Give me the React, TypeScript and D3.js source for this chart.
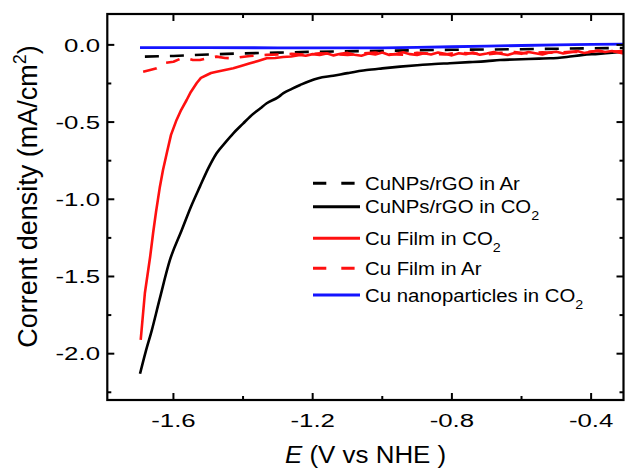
import React from "react";
import * as d3 from "d3";

// ---------- data ----------
const xMajorTicks = [-1.6, -1.2, -0.8, -0.4];
const xMinorTicks = [-1.4, -1.0, -0.6];
const yMajorTicks = [0.0, -0.5, -1.0, -1.5, -2.0];
const yMinorTicks = [-0.25, -0.75, -1.25, -1.75, -2.25];

// CuNPs/rGO in CO2 (black solid)
const cunpsCO2E = [-1.696, -1.68, -1.662, -1.64, -1.61, -1.576, -1.55, -1.524, -1.5, -1.476, -1.45, -1.428, -1.4, -1.38, -1.35, -1.332, -1.3, -1.284, -1.26, -1.236, -1.21, -1.184, -1.141, -1.1, -1.045, -1.0, -0.949, -0.9, -0.85, -0.806, -0.75, -0.7, -0.662, -0.6, -0.55, -0.518, -0.47, -0.423, -0.38, -0.34, -0.308];
const cunpsCO2J = [-2.13, -1.99, -1.847, -1.65, -1.393, -1.199, -1.05, -0.918, -0.8, -0.702, -0.63, -0.573, -0.51, -0.465, -0.41, -0.378, -0.34, -0.313, -0.285, -0.26, -0.235, -0.216, -0.2, -0.183, -0.163, -0.152, -0.141, -0.132, -0.124, -0.119, -0.112, -0.105, -0.098, -0.093, -0.089, -0.087, -0.078, -0.065, -0.058, -0.05, -0.044];

// CuNPs/rGO in Ar (black dashed)
const cunpsArE = [-1.682, -1.6, -1.5, -1.4, -1.3, -1.2, -1.0, -0.8, -0.6, -0.4, -0.307];
const cunpsArJ = [-0.076, -0.072, -0.062, -0.055, -0.05, -0.045, -0.038, -0.032, -0.028, -0.022, -0.02];

// Cu Film in CO2 (red solid)
const filmCO2E = [-1.694, -1.682, -1.667, -1.658, -1.65, -1.639, -1.63, -1.619, -1.607, -1.591, -1.578, -1.562, -1.55, -1.533, -1.521, -1.504, -1.492, -1.476, -1.452, -1.428, -1.406, -1.38, -1.357, -1.332, -1.308, -1.285, -1.262, -1.236,
  -1.22, -1.2, -1.18, -1.16, -1.14, -1.12, -1.1, -1.08, -1.06, -1.04, -1.02, -1.0, -0.98, -0.96, -0.94, -0.92, -0.9, -0.88, -0.86, -0.84, -0.82, -0.8, -0.78, -0.76, -0.74, -0.72, -0.7, -0.68, -0.66, -0.64, -0.62, -0.6, -0.58, -0.56, -0.54, -0.52, -0.5, -0.48, -0.46, -0.44, -0.42, -0.4, -0.38, -0.36, -0.34, -0.32, -0.307];
const filmCO2J = [-1.911, -1.607, -1.374, -1.212, -1.082, -0.92, -0.81, -0.7, -0.583, -0.486, -0.422, -0.357, -0.305, -0.247, -0.214, -0.195, -0.182, -0.174, -0.163, -0.152, -0.137, -0.119, -0.104, -0.087, -0.085, -0.079, -0.075, -0.065,
  -0.07, -0.06, -0.066, -0.055, -0.068, -0.058, -0.052, -0.064, -0.07, -0.056, -0.062, -0.05, -0.066, -0.058, -0.048, -0.06, -0.066, -0.054, -0.062, -0.05, -0.058, -0.068, -0.054, -0.06, -0.05, -0.064, -0.056, -0.046, -0.058, -0.066, -0.052, -0.058, -0.046, -0.054, -0.062, -0.05, -0.044, -0.056, -0.048, -0.04, -0.052, -0.044, -0.036, -0.046, -0.04, -0.05, -0.056];

// Cu Film in Ar (red dashed)
const filmArE = [-1.687, -1.667, -1.648, -1.624, -1.6, -1.581, -1.562, -1.544, -1.524, -1.501, -1.476, -1.452, -1.428, -1.403, -1.38, -1.332, -1.3, -1.26, -1.22, -1.18, -1.14, -1.1, -1.06, -1.02, -0.98, -0.94, -0.9, -0.86, -0.82, -0.78, -0.74, -0.7, -0.66, -0.62, -0.58, -0.54, -0.5, -0.46, -0.42, -0.38, -0.34, -0.307];
const filmArJ = [-0.174, -0.163, -0.152, -0.117, -0.109, -0.091, -0.087, -0.098, -0.098, -0.085, -0.076, -0.085, -0.087, -0.078, -0.072, -0.065, -0.062, -0.058, -0.064, -0.054, -0.06, -0.066, -0.056, -0.05, -0.06, -0.064, -0.052, -0.058, -0.062, -0.05, -0.056, -0.062, -0.052, -0.046, -0.056, -0.048, -0.052, -0.044, -0.048, -0.04, -0.044, -0.04];

// Cu nanoparticles in CO2 (blue)
const npCO2E = [-1.696, -1.5, -1.3, -1.1, -1.0, -0.9, -0.8, -0.7, -0.6, -0.5, -0.4, -0.307];
const npCO2J = [-0.018, -0.018, -0.019, -0.02, -0.019, -0.016, -0.012, -0.008, -0.004, 0.0, 0.003, 0.005];

const legendLabels = ["CuNPs/rGO in Ar", "CuNPs/rGO in CO", "Cu Film in CO", "Cu Film in Ar", "Cu nanoparticles in CO"];
const legendSub = [false, true, true, false, true];

// ---------- layout ----------
const W = 625, H = 471;
const left = 107.3, right = 623.5, top = 14, bottom = 400;
const FONT = "'Liberation Sans', Arial, Helvetica, sans-serif";

const x = d3.scaleLinear().domain([-1.79, -0.307]).range([left, right]);
const y = d3.scaleLinear().domain([-2.3, 0.2]).range([bottom, top]);

const zip = (a: number[], b: number[]) => a.map((v, i) => [v, b[i]] as [number, number]);
const line = d3.line<[number, number]>().x(d => x(d[0])).y(d => y(d[1]));
const smooth = d3.line<[number, number]>().x(d => x(d[0])).y(d => y(d[1])).curve(d3.curveMonotoneX);

const RED = "#ff1010";
const BLUE = "#1414ff";

const series = [
  { name: legendLabels[0], d: line(zip(cunpsArE, cunpsArJ)), color: "#000", dash: "14 11", w: 2.6 },
  { name: legendLabels[1], d: smooth(zip(cunpsCO2E, cunpsCO2J)), color: "#000", dash: "", w: 2.6 },
  { name: legendLabels[2], d: line(zip(filmCO2E, filmCO2J)), color: RED, dash: "", w: 2.6 },
  { name: legendLabels[3], d: line(zip(filmArE, filmArJ)), color: RED, dash: "14 11", w: 2.6 },
  { name: legendLabels[4], d: line(zip(npCO2E, npCO2J)), color: BLUE, dash: "", w: 2.8 },
];
const drawOrder = [1, 0, 3, 2, 4];
const legendRowsY = [183.3, 206.7, 238.3, 268.3, 295];

export default function App() {
  const maj = 7, min = 4;
  return (
    <svg width={W} height={H} style={{ position: "absolute", left: 0, top: 0, background: "#fff" }} fontFamily={FONT}>
      <rect x={0} y={0} width={W} height={H} fill="#fff" />
      <defs>
        <clipPath id="plot">
          <rect x={left} y={top} width={right - left} height={bottom - top} />
        </clipPath>
      </defs>
      {/* curves */}
      <g clipPath="url(#plot)" fill="none" strokeLinejoin="round">
        {drawOrder.map(i => {
          const s = series[i];
          return <path key={i} d={s.d || ""} stroke={s.color} strokeWidth={s.w} strokeDasharray={s.dash || undefined} />;
        })}
      </g>
      {/* frame */}
      <rect x={left} y={top} width={right - left} height={bottom - top} fill="none" stroke="#000" strokeWidth={2.2} />
      {/* x ticks */}
      {xMajorTicks.map(t => (
        <g key={"xm" + t}>
          <line x1={x(t)} x2={x(t)} y1={bottom} y2={bottom - maj} stroke="#000" strokeWidth={2} />
          <line x1={x(t)} x2={x(t)} y1={top} y2={top + maj} stroke="#000" strokeWidth={2} />
          <text transform={`translate(${x(t)},427) scale(1.36,1)`} textAnchor="middle" fontSize={19} fill="#000">
            {t.toFixed(1)}
          </text>
        </g>
      ))}
      {xMinorTicks.map(t => (
        <g key={"xn" + t}>
          <line x1={x(t)} x2={x(t)} y1={bottom} y2={bottom - min} stroke="#000" strokeWidth={2} />
          <line x1={x(t)} x2={x(t)} y1={top} y2={top + min} stroke="#000" strokeWidth={2} />
        </g>
      ))}
      {/* y ticks */}
      {yMajorTicks.map(t => (
        <g key={"ym" + t}>
          <line x1={left} x2={left + maj} y1={y(t)} y2={y(t)} stroke="#000" strokeWidth={2} />
          <line x1={right} x2={right - maj} y1={y(t)} y2={y(t)} stroke="#000" strokeWidth={2} />
          <text transform={`translate(100,${y(t) + 6.8}) scale(1.36,1)`} textAnchor="end" fontSize={19} fill="#000">
            {t === 0 ? "0.0" : t.toFixed(1)}
          </text>
        </g>
      ))}
      {yMinorTicks.map(t => (
        <g key={"yn" + t}>
          <line x1={left} x2={left + min} y1={y(t)} y2={y(t)} stroke="#000" strokeWidth={2} />
          <line x1={right} x2={right - min} y1={y(t)} y2={y(t)} stroke="#000" strokeWidth={2} />
        </g>
      ))}
      {/* y label */}
      <text transform="translate(37,196.5) rotate(-90)" textAnchor="middle" fontSize={27} fill="#000">
        Corrent density (mA/cm<tspan fontSize={18} dy={-11}>2</tspan><tspan dy={11}>)</tspan>
      </text>
      {/* x label */}
      <text transform="translate(285,463) scale(1.08,1)" fontSize={24} fill="#000">
        <tspan fontStyle="italic">E</tspan> (V vs NHE )
      </text>
      {/* legend */}
      {series.map((s, i) => (
        <g key={"lg" + i}>
          <line x1={313} x2={360} y1={legendRowsY[i]} y2={legendRowsY[i]} stroke={s.color} strokeWidth={3} strokeDasharray={s.dash ? "13.3 15" : undefined} />
          <text transform={`translate(365,${legendRowsY[i] + 6.7}) scale(1.1,1)`} fontSize={18.5} fill="#000">
            {legendLabels[i]}
            {legendSub[i] ? <tspan fontSize={13} dy={7}>2</tspan> : null}
          </text>
        </g>
      ))}
    </svg>
  );
}
